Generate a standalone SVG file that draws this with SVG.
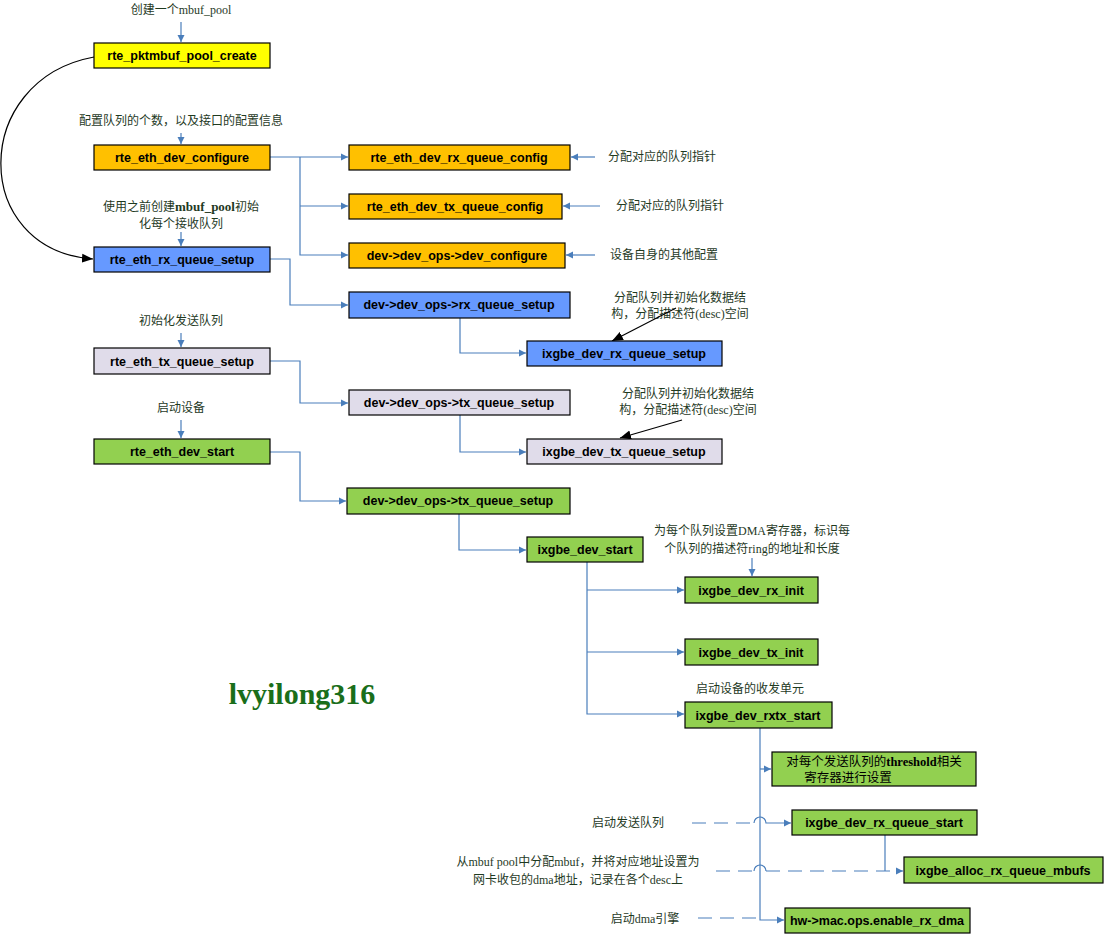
<svg xmlns="http://www.w3.org/2000/svg" width="1105" height="935" viewBox="0 0 1105 935">
<style>
.n rect{stroke:#000;stroke-width:1.2}
.n text{font-family:"Liberation Sans","Noto Sans CJK SC",sans-serif;font-weight:bold;font-size:12.5px;fill:#000;text-anchor:middle}
.y{fill:#ffff00}.o{fill:#ffc000}.b{fill:#6699ff}.l{fill:#e0dcea}.g{fill:#92d050}
.a{font-family:"Liberation Serif","Noto Sans CJK SC",serif;font-size:12px;fill:#1f3a1f;text-anchor:middle}
.c path{fill:none;stroke:#4a7ebb;stroke-width:1.2}
.c path.d{stroke-dasharray:14,8}
.c path.k{stroke:#000}
</style>
<defs>
<marker id="ar" markerWidth="8" markerHeight="8" refX="7" refY="4" orient="auto" markerUnits="userSpaceOnUse"><path d="M0,0.5 L7,4 L0,7.5 Z" fill="#4a7ebb"/></marker>
<marker id="ak" markerWidth="12" markerHeight="10" refX="11" refY="5" orient="auto" markerUnits="userSpaceOnUse"><path d="M0,0.5 L11,5 L0,9.5 Z" fill="#000"/></marker>
</defs>
<rect width="1105" height="935" fill="#fff"/>
<g id="annotations">
<text class="a" x="181" y="14">创建一个mbuf_pool</text>
<text class="a" x="181" y="125">配置队列的个数，以及接口的配置信息</text>
<text class="a" x="181" y="211">使用之前创建<tspan font-weight="bold" font-size="13">mbuf_pool</tspan>初始</text>
<text class="a" x="181" y="228">化每个接收队列</text>
<text class="a" x="181" y="325">初始化发送队列</text>
<text class="a" x="181" y="412">启动设备</text>
<text class="a" x="662" y="161">分配对应的队列指针</text>
<text class="a" x="670" y="210">分配对应的队列指针</text>
<text class="a" x="664" y="259">设备自身的其他配置</text>
<text class="a" x="680" y="302">分配队列并初始化数据结</text>
<text class="a" x="680" y="318">构，分配描述符(desc)空间</text>
<text class="a" x="688" y="398">分配队列并初始化数据结</text>
<text class="a" x="688" y="414">构，分配描述符(desc)空间</text>
<text class="a" x="752" y="535">为每个队列设置DMA寄存器，标识每</text>
<text class="a" x="752" y="553">个队列的描述符ring的地址和长度</text>
<text class="a" x="750" y="693">启动设备的收发单元</text>
<text class="a" x="628" y="827">启动发送队列</text>
<text class="a" x="578" y="866">从mbuf pool中分配mbuf，并将对应地址设置为</text>
<text class="a" x="578" y="884">网卡收包的dma地址，记录在各个desc上</text>
<text class="a" x="645" y="923">启动dma引擎</text>
<text x="302" y="704" font-family="Liberation Serif,serif" font-weight="bold" font-size="30" fill="#1a6e1a" text-anchor="middle">lvyilong316</text>
</g>
<g id="connectors" class="c">
<path d="M181,22 V42" marker-end="url(#ar)"/>
<path d="M181,133 V144" marker-end="url(#ar)"/>
<path d="M181,232 V246" marker-end="url(#ar)"/>
<path d="M181,333 V347" marker-end="url(#ar)"/>
<path d="M181,420 V438" marker-end="url(#ar)"/>
<path class="k" d="M94,57 C-30,80 -30,250 93,259" marker-end="url(#ak)"/>
<path d="M270,157 H348" marker-end="url(#ar)"/>
<path d="M300,157 V255 H348" marker-end="url(#ar)"/>
<path d="M300,206 H348" marker-end="url(#ar)"/>
<path d="M595,157 H571" marker-end="url(#ar)"/>
<path d="M600,206 H563" marker-end="url(#ar)"/>
<path d="M595,255 H566" marker-end="url(#ar)"/>
<path d="M270,259 H290 V305 H348" marker-end="url(#ar)"/>
<path d="M460,318 V353 H526" marker-end="url(#ar)"/>
<path class="k" d="M676,308 L612,341" marker-end="url(#ak)"/>
<path d="M270,361 H300 V403 H348" marker-end="url(#ar)"/>
<path d="M460,415 V452 H526" marker-end="url(#ar)"/>
<path class="k" d="M682,420 L620,438" marker-end="url(#ak)"/>
<path d="M270,452 H300 V501 H346" marker-end="url(#ar)"/>
<path d="M459,514 V550 H526" marker-end="url(#ar)"/>
<path d="M752,558 V576" marker-end="url(#ar)"/>
<path d="M587,562 V714 H684" marker-end="url(#ar)"/>
<path d="M587,590 H684" marker-end="url(#ar)"/>
<path d="M587,652 H684" marker-end="url(#ar)"/>
<path d="M760,728 V920 H784" marker-end="url(#ar)"/>
<path d="M760,769 H771" marker-end="url(#ar)"/>
<path class="d" d="M692,823 H754"/>
<path d="M754,823 A6,6 0 0 1 766,823 H791" marker-end="url(#ar)"/>
<path d="M885,835 V871"/>
<path class="d" d="M716,871 H754"/>
<path d="M754,871 A6,6 0 0 1 766,871"/>
<path class="d" d="M766,871 H903" marker-end="url(#ar)"/>
<path class="d" d="M698,918 H760"/>
</g>
<g id="n1" class="n"><rect class="y" x="94" y="43" width="176" height="25"/><text x="182" y="60">rte_pktmbuf_pool_create</text></g>
<g id="n2" class="n"><rect class="o" x="94" y="145" width="176" height="25"/><text x="182" y="162">rte_eth_dev_configure</text></g>
<g id="n3" class="n"><rect class="o" x="349" y="145" width="221" height="25"/><text x="459" y="162">rte_eth_dev_rx_queue_config</text></g>
<g id="n4" class="n"><rect class="o" x="349" y="194" width="213" height="25"/><text x="455" y="211">rte_eth_dev_tx_queue_config</text></g>
<g id="n5" class="n"><rect class="o" x="349" y="243" width="216" height="25"/><text x="457" y="260">dev-&gt;dev_ops-&gt;dev_configure</text></g>
<g id="n6" class="n"><rect class="b" x="94" y="247" width="176" height="25"/><text x="182" y="264">rte_eth_rx_queue_setup</text></g>
<g id="n7" class="n"><rect class="b" x="349" y="292" width="221" height="26"/><text x="459" y="309">dev-&gt;dev_ops-&gt;rx_queue_setup</text></g>
<g id="n8" class="n"><rect class="b" x="527" y="341" width="195" height="25"/><text x="624" y="358">ixgbe_dev_rx_queue_setup</text></g>
<g id="n9" class="n"><rect class="l" x="94" y="348" width="176" height="26"/><text x="182" y="366">rte_eth_tx_queue_setup</text></g>
<g id="n10" class="n"><rect class="l" x="349" y="390" width="221" height="25"/><text x="459" y="407">dev-&gt;dev_ops-&gt;tx_queue_setup</text></g>
<g id="n11" class="n"><rect class="l" x="527" y="439" width="195" height="25"/><text x="624" y="456">ixgbe_dev_tx_queue_setup</text></g>
<g id="n12" class="n"><rect class="g" x="94" y="439" width="176" height="25"/><text x="182" y="456">rte_eth_dev_start</text></g>
<g id="n13" class="n"><rect class="g" x="347" y="488" width="223" height="26"/><text x="458" y="505">dev-&gt;dev_ops-&gt;tx_queue_setup</text></g>
<g id="n14" class="n"><rect class="g" x="527" y="537" width="116" height="25"/><text x="585" y="554">ixgbe_dev_start</text></g>
<g id="n15" class="n"><rect class="g" x="685" y="577" width="133" height="26"/><text x="751" y="595">ixgbe_dev_rx_init</text></g>
<g id="n16" class="n"><rect class="g" x="685" y="639" width="133" height="26"/><text x="751" y="657">ixgbe_dev_tx_init</text></g>
<g id="n17" class="n"><rect class="g" x="685" y="702" width="147" height="26"/><text x="758" y="720">ixgbe_dev_rxtx_start</text></g>
<g id="n18" class="n"><rect class="g" x="772" y="752" width="204" height="34"/><text x="874" y="766" style="font-family:'Liberation Serif','Noto Sans CJK SC',serif;font-weight:normal;font-size:12.5px">对每个发送队列的<tspan font-weight="bold">threshold</tspan>相关</text><text x="848" y="782" style="font-family:'Liberation Serif','Noto Sans CJK SC',serif;font-weight:normal;font-size:12.5px">寄存器进行设置</text></g>
<g id="n19" class="n"><rect class="g" x="792" y="810" width="185" height="25"/><text x="884" y="827">ixgbe_dev_rx_queue_start</text></g>
<g id="n20" class="n"><rect class="g" x="904" y="857" width="199" height="26"/><text x="1003" y="875">ixgbe_alloc_rx_queue_mbufs</text></g>
<g id="n21" class="n"><rect class="g" x="785" y="908" width="185" height="25"/><text x="877" y="925">hw-&gt;mac.ops.enable_rx_dma</text></g>
</svg>
